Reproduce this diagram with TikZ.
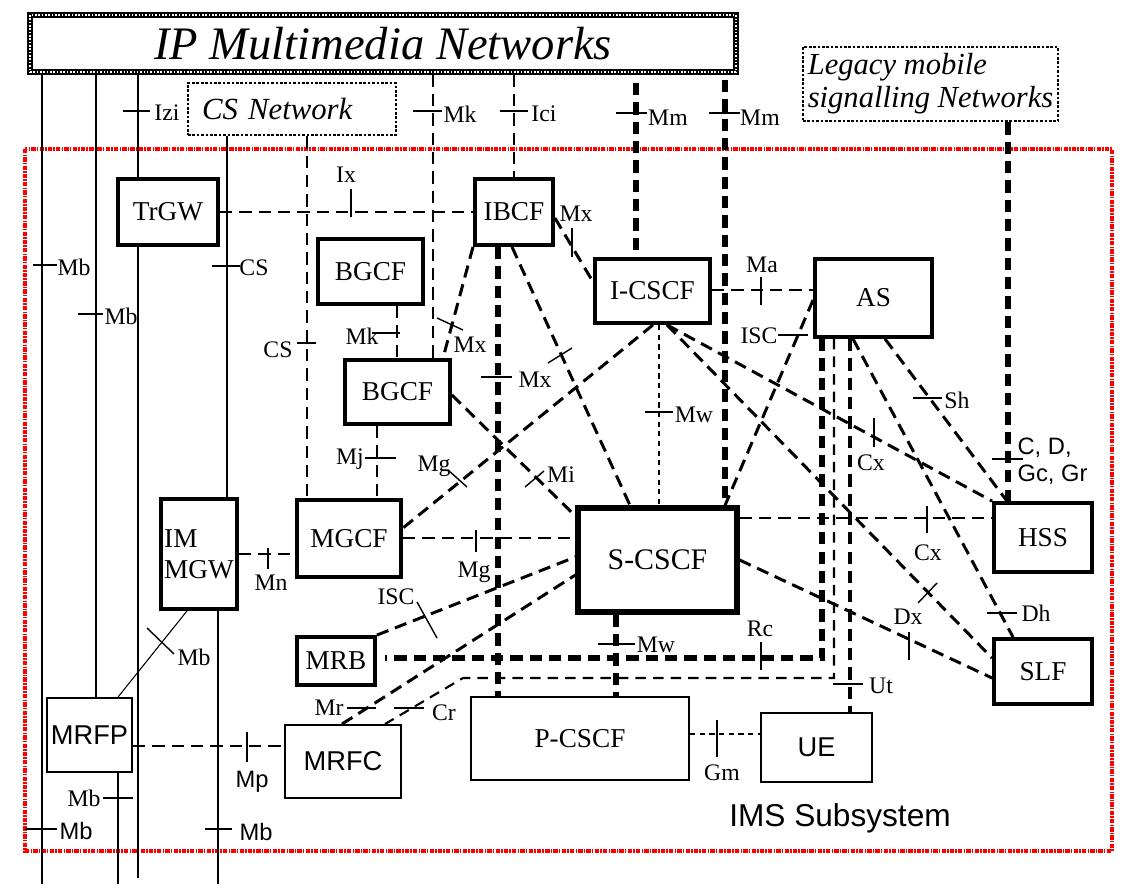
\documentclass[tikz,border=0pt]{standalone}
\usepackage{fontspec}
\setmainfont{Liberation Serif}
\newfontfamily\arialf{Liberation Sans}
\usetikzlibrary{calc}
\definecolor{imsred}{RGB}{255,0,0}

\begin{document}
\begin{tikzpicture}[x=0.02cm, y=-0.02cm,
  bx/.style={draw, line width=2.2pt, inner sep=0pt, font=\fontsize{15.5}{17.5}\selectfont},
  bxthin/.style={bx, line width=1.1pt},
  sansbox/.style={font=\arialf\fontsize{15.5}{17.5}\selectfont},
  netbox/.style={draw, densely dotted, line width=1.5pt, inner sep=0pt, align=left},
  lbl/.style={inner sep=0.5pt, font=\fontsize{13.5}{15}\selectfont},
  slbl/.style={inner sep=0.5pt, font=\arialf\fontsize{13.5}{15.5}\selectfont},
  mb/.style={line width=0.6pt},
  tk/.style={line width=0.8pt},
  dl/.style={line width=1.7pt, dash pattern=on 7pt off 4pt},
  dlthick/.style={line width=2.9pt, dash pattern=on 7pt off 4pt},
  dlthin/.style={line width=1.2pt, dash pattern=on 6pt off 4pt},
  dlfine/.style={line width=1.1pt, dash pattern=on 3pt off 2.5pt}]
\useasboundingbox (0,0) rectangle (1143,892);

\draw[imsred, line width=2pt, dash pattern=on 2.5pt off 0.7pt on 0.8pt off 0.7pt] (25,149) rectangle (1112,851);
\node[slbl, font=\arialf\fontsize{18}{20}\selectfont] (ims) at (840,818) {IMS Subsystem};

\node[draw, line width=3pt, minimum width=14.12cm, minimum height=1.14cm, inner sep=0pt,
  postaction={draw=white, line width=0.9pt, densely dotted}, font=\itshape\fontsize{26.5}{30}\selectfont] (ipn) at (383,43.5) {IP Multimedia Networks};
\node[netbox, minimum width=4.16cm, minimum height=1.04cm, text width=3.6cm, font=\itshape\fontsize{17.5}{20}\selectfont] (csn) at (292,109) {CS Network};
\node[netbox, minimum width=5.1cm, minimum height=1.48cm, font=\itshape\fontsize{17.4}{18.7}\selectfont] (leg) at (930.5,84) {Legacy mobile\\signalling Networks};

\node[bx, minimum width=2cm, minimum height=1.32cm] (trgw) at (168,212) {TrGW};
\node[bx, minimum width=1.56cm, minimum height=1.32cm] (ibcf) at (514,212) {IBCF};
\node[bx, minimum width=2.1cm, minimum height=1.3cm] (bgcfa) at (370.5,271.5) {BGCF};
\node[bx, minimum width=2.1cm, minimum height=1.28cm] (bgcfb) at (397.5,392) {BGCF};
\node[bx, minimum width=2.3cm, minimum height=1.28cm] (icscf) at (652.5,291) {I-CSCF};
\node[bx, minimum width=2.34cm, minimum height=1.56cm] (as) at (873.5,298) {AS};
\node[bx, minimum width=1.52cm, minimum height=2.2cm, align=left] (immgw) at (199,554) {IM\\MGW};
\node[bx, minimum width=2.08cm, minimum height=1.54cm] (mgcf) at (349,538.5) {MGCF};
\node[bx, line width=3pt, minimum width=3.18cm, minimum height=2.08cm, font=\fontsize{17}{19}\selectfont] (scscf) at (657.5,560) {S-CSCF};
\node[bx, minimum width=1.96cm, minimum height=1.38cm] (hss) at (1043,537.5) {HSS};
\node[bx, minimum width=1.96cm, minimum height=1.3cm] (slf) at (1043,671.5) {SLF};
\node[bx, minimum width=1.56cm, minimum height=0.96cm] (mrb) at (336,661) {MRB};
\node[bxthin, sansbox, minimum width=1.7cm, minimum height=1.48cm] (mrfp) at (89.5,735) {MRFP};
\node[bxthin, sansbox, minimum width=2.32cm, minimum height=1.46cm] (mrfc) at (343,761.5) {MRFC};
\node[bxthin, minimum width=4.36cm, minimum height=1.66cm] (pcscf) at (580,738.5) {P-CSCF};
\node[bxthin, sansbox, minimum width=2.22cm, minimum height=1.38cm] (ue) at (816.5,747.5) {UE};

\coordinate (bot1) at (42,884);
\coordinate (bot2) at (118,884);
\coordinate (bot3) at (138,878);
\coordinate (bot4) at (218,884);
\coordinate (mma) at (636,83);
\coordinate (mmb) at (725,80);
\coordinate (crk) at (463,678);
\coordinate (rck) at (385,658);

\draw[mb] (ipn.south -| bot1) -- (bot1);
\draw[mb] (ipn.south -| 96,0) -- (mrfp.north -| 96,0);
\draw[mb] (ipn.south -| bot3) -- (trgw.north -| bot3);
\draw[mb] (trgw.south -| bot3) -- (bot3);
\draw[mb] (csn.south -| 227,0) -- (immgw.north -| 227,0);
\draw[mb] (immgw.south -| bot4) -- (bot4);
\draw[mb] (mrfp.north -| 118,0) -- (immgw.south -| 187,0);
\draw[mb] (mrfp.south -| bot2) -- (bot2);

\draw[tk] (123,111) -- (150,111) node[lbl] (lizi) at (167,113) {Izi};
\draw[tk] (33,265) -- (57,265) node[lbl] (lmba) at (74,267) {Mb};
\draw[tk] (78,314) -- (103,314) node[lbl] (lmbb) at (121,316) {Mb};
\draw[tk] (212,266) -- (240,266) node[lbl] (lcsa) at (254,268) {CS};
\draw[tk] (147,628) -- (174,654) node[lbl] (lmbc) at (194,657) {Mb};
\draw[tk] (103,798) -- (133,798) node[lbl] (lmbd) at (84,798) {Mb};
\draw[tk] (25,829) -- (57,829) node[slbl] (lmbe) at (76,831) {Mb};
\draw[tk] (205,829) -- (232,829) node[slbl] (lmbf) at (256,832) {Mb};

\draw[dl] (trgw) -- (ibcf);
\draw[dl] (csn.south -| 307,0) -- (mgcf.north -| 307,0);
\draw[dl] (ipn.south -| 433,0) -- (bgcfb.north -| 433,0);
\draw[dl] (ipn.south -| ibcf.north) -- (ibcf.north);
\draw[dl] (bgcfa.south -| 397,0) -- (bgcfb.north -| 397,0);
\draw[dl] (bgcfb.south -| 377,0) -- (mgcf.north -| 377,0);
\draw[dl] (immgw.east |- 0,554) -- (mgcf.west |- 0,554);
\draw[dl] (ibcf.south -| 473,0) -- (bgcfb.north -| 443,0);
\draw[dl] (ibcf.east |- 0,218) -- (icscf.west |- 0,282);
\draw[dl] (ibcf.south -| 512,0) -- (scscf.north -| 630,0);
\draw[dl] (icscf.south -| 653,0) -- (mgcf.east |- 0,528);
\draw[dl] (bgcfb.east |- 0,395) -- (scscf.west |- 0,516);
\draw[dl] (mgcf.east |- 0,538) -- (scscf.west |- 0,538);
\draw[dl] (icscf.east |- 0,290) -- (as.west |- 0,290);
\draw[dl] (as.west |- 0,300) -- (scscf.north -| 725,0);
\draw[dl] (icscf.south -| 667,0) -- (hss.north west);
\draw[dl] (icscf.south -| 667,0) -- (slf.west |- 0,658);
\draw[dl] (scscf.east |- 0,518) -- (hss.west |- 0,518);
\draw[dl] (scscf.east |- 0,560) -- (slf.west |- 0,678);
\draw[dl] (as.south -| 885,0) -- (hss.north -| 1007,0);
\draw[dl] (as.south -| 853,0) -- (slf.north -| 1013,0);
\draw[dl] (mrb.north east) -- (scscf.west |- 0,557);
\draw[dl] (mrfc.north -| 342,0) -- (scscf.west |- 0,575);
\draw[dl] (mrfp.east |- 0,746) -- (mrfc.west |- 0,746);
\draw[dlthin] (as.south -| 834,0) |- (crk) -- (mrfc.north -| 385,0);
\draw[dl, line width=2pt] (as.south -| 850,0) -- (ue.north -| 850,0);
\draw[dlfine] (pcscf.east |- 0,734) -- (ue.west |- 0,734);
\draw[dlfine] (icscf.south -| 659,0) -- (scscf.north -| 659,0);
\draw[dlthick] (mma) -- (icscf.north -| mma);
\draw[dlthick] (mmb) -- (scscf.north -| mmb);
\draw[dlthick] (leg.south -| 1008,0) -- (hss.north -| 1008,0);
\draw[dlthick] (ibcf.south -| 498,0) -- (pcscf.north -| 498,0);
\draw[dlthick] (scscf.south -| 616,0) -- (pcscf.north -| 616,0);
\draw[dlthick] (as.south -| 822,0) |- (rck);

\draw[tk] (351,189) -- (351,217) node[lbl] (lix) at (346,175) {Ix};
\draw[tk] (297,343) -- (316,343) node[lbl] (lcsb) at (278,350) {CS};
\draw[tk] (413,111) -- (442,111) node[lbl] (lmka) at (460,114) {Mk};
\draw[tk] (500,111) -- (528,111) node[lbl] (lici) at (544,114) {Ici};
\draw[tk, line width=1.4pt] (616,113) -- (647,113) node[lbl] (lmma) at (668,118) {Mm};
\draw[tk] (709,113) -- (740,113) node[lbl] (lmmb) at (760,118) {Mm};
\draw[tk] (372,333) -- (400,333) node[lbl] (lmkb) at (362,336) {Mk};
\draw[tk] (365,458) -- (396,458) node[lbl] (lmj) at (350,459) {Mj};
\draw[tk] (268,548) -- (268,569) node[lbl] (lmn) at (271,583) {Mn};
\draw[tk] (437,318) -- (463,330) node[lbl] (lmxa) at (470,345) {Mx};
\draw[tk] (572,228) -- (572,257) node[lbl] (lmxb) at (576,214) {Mx};
\draw[tk] (481,377) -- (512,377) node[lbl] (lmxc) at (535,380) {Mx};
\draw[tk] (548,363) -- (572,348);
\draw[tk] (448,470) -- (467,487) node[lbl] (lmga) at (434,466) {Mg};
\draw[tk] (525,487) -- (544,471) node[lbl] (lmi) at (561,475) {Mi};
\draw[tk] (476,530) -- (476,552) node[lbl] (lmgb) at (474,572) {Mg};
\draw[tk] (645,412) -- (673,412) node[lbl] (lmwa) at (694,415) {Mw};
\draw[tk] (761,277) -- (761,305) node[lbl] (lma) at (762,265) {Ma};
\draw[tk] (778,335) -- (808,335) node[lbl] (lisca) at (759,336) {ISC};
\draw[tk] (874,418) -- (874,447) node[lbl] (lcxa) at (871,463) {Cx};
\draw[tk] (927,506) -- (927,533) node[lbl] (lcxb) at (928,553) {Cx};
\draw[tk] (913,398) -- (942,398) node[lbl] (lsh) at (957,400) {Sh};
\draw[tk] (992,459) -- (1023,459) node[slbl, anchor=west, align=left] (lcd) at (1016,461) {C, D,\\Gc, Gr};
\draw[tk] (918,603) -- (937,583);
\draw[tk] (909,632) -- (909,660) node[lbl] (ldx) at (908,617) {Dx};
\draw[tk] (987,613) -- (1017,613) node[lbl] (ldh) at (1036,613) {Dh};
\draw[tk] (761,642) -- (761,670) node[lbl] (lrc) at (760,629) {Rc};
\draw[tk] (833,684) -- (863,684) node[lbl] (lut) at (881,686) {Ut};
\draw[tk] (598,644) -- (635,644) node[lbl] (lmwb) at (656,645) {Mw};
\draw[tk] (717,720) -- (717,757) node[lbl] (lgm) at (722,773) {Gm};
\draw[tk] (417,602) -- (437,638) node[lbl] (liscb) at (396,597) {ISC};
\draw[tk] (347,708) -- (376,708) node[lbl] (lmr) at (329,708) {Mr};
\draw[tk] (394,708) -- (424,708) node[lbl] (lcr) at (444,713) {Cr};
\draw[tk] (247,732) -- (247,762) node[slbl] (lmp) at (252,782) {Mp};
\end{tikzpicture}
\end{document}
